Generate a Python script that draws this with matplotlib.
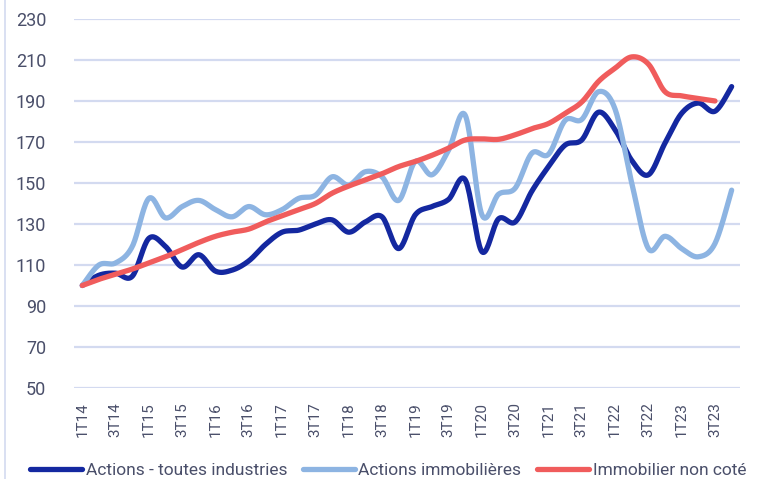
import numpy as np
import matplotlib
matplotlib.use('Agg')
import matplotlib.pyplot as plt
from matplotlib.lines import Line2D

# quarters 1T14 .. 4T23
quarters = ['%dT%02d' % (q, y) for y in range(14, 24) for q in range(1, 5)]

actions_all = [100, 105, 106, 104.5, 123, 119, 109, 115, 107, 107.5,
               112, 120, 126, 127, 130, 132, 126, 131, 133.5, 118,
               134.5, 138.5, 142, 151.5, 116.5, 132.5, 131, 146, 158, 168.5,
               171, 184.5, 176, 161, 154, 169.5, 184, 189, 185, 197]

actions_immo = [100, 110, 111, 119, 142.5, 133, 138.5, 141.5, 137, 133.5,
                138.5, 134.5, 137, 142.5, 144, 153, 149, 155.5, 153, 141.5,
                160.5, 154, 166, 183, 134.5, 144.5, 147.5, 164.5, 164, 180.5,
                181, 194.5, 186, 150, 118, 124, 118, 114, 120.5, 146.5]

immo_non_cote = [100, 103, 105.5, 108, 111, 114, 117.5, 121, 124, 126,
                 127.5, 131, 134, 137, 140, 145, 148.5, 151.5, 154.5, 158,
                 160.5, 163.5, 167, 171, 171.5, 171.3, 173.5, 176.5, 179, 184,
                 189.5, 199.5, 206, 211.5, 208, 194.5, 192.5, 191.2, 190]

series = [
    ('Actions - toutes industries', actions_all, '#1428a0'),
    ('Actions immobilières', actions_immo, '#8db4e2'),
    ('Immobilier non coté', immo_non_cote, '#f05c5c'),
]


def smooth(vals, n=20):
    # catmull-rom curve through the points, only for drawing (like excel smoothed lines)
    p = np.asarray(vals, dtype=float)
    x = np.arange(len(p), dtype=float)
    pts = np.column_stack([x, p])
    pts = np.vstack([pts[0], pts, pts[-1]])
    out = []
    t = np.linspace(0, 1, n, endpoint=False)[:, None]
    for k in range(1, len(pts) - 2):
        p0, p1, p2, p3 = pts[k - 1], pts[k], pts[k + 1], pts[k + 2]
        seg = 0.5 * ((2 * p1) + (-p0 + p2) * t
                     + (2 * p0 - 5 * p1 + 4 * p2 - p3) * t ** 2
                     + (-p0 + 3 * p1 - 3 * p2 + p3) * t ** 3)
        out.append(seg)
    out.append(pts[-2][None, :])
    out = np.vstack(out)
    return out[:, 0], out[:, 1]


fam = ['Roboto', 'DejaVu Sans']
txt_col = '#4a4f6a'

fig = plt.figure(figsize=(7.58, 4.79), dpi=100)
ax = fig.add_axes([0.0976, 0.19, 0.8786, 0.7704])

for y in range(50, 231, 20):
    ax.axhline(y, color='#d3daf0', lw=1.6, zorder=0)

handles = []
for name, vals, col in series:
    xs, ys = smooth(vals)
    ax.plot(xs, ys, color=col, lw=3.8, solid_capstyle='round', zorder=2)
    handles.append(Line2D([0], [0], color=col, lw=3.8, solid_capstyle='round'))

ax.set_xlim(-0.5, len(quarters) - 0.5)
ax.set_ylim(50, 230)
ax.set_yticks(range(50, 231, 20))
ax.set_xticks(range(0, len(quarters), 2))
ax.set_xticklabels(quarters[::2], rotation=90)
for s in ax.spines.values():
    s.set_visible(False)
ax.tick_params(length=0, colors=txt_col)
for lab in ax.get_yticklabels():
    lab.set_family(fam)
    lab.set_fontsize(13)
for lab in ax.get_xticklabels():
    lab.set_family(fam)
    lab.set_fontsize(11)
ax.tick_params(axis='y', pad=20)
ax.tick_params(axis='x', pad=10)

leg = fig.legend(handles, [s[0] for s in series], loc='center', ncol=3,
                 bbox_to_anchor=(0.512, 0.018), frameon=False,
                 handlelength=3.0, handletextpad=0.2, columnspacing=0.9,
                 prop={'family': fam, 'size': 12.5})
for t in leg.get_texts():
    t.set_color(txt_col)

# thin border line at the left edge
fig.add_artist(Line2D([0.006, 0.006], [0, 1], color='#d3daf0', lw=1.2))

fig.savefig('out.png', dpi=100)
